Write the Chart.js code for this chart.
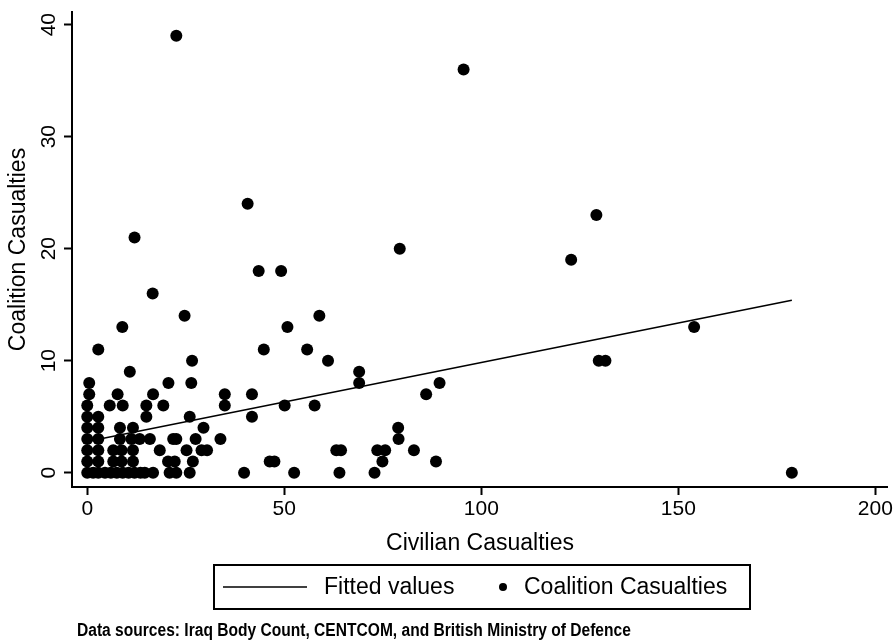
<!DOCTYPE html>
<html lang="en">
<head>
<meta charset="UTF-8">
<title>Coalition vs Civilian Casualties</title>
<script src="https://cdn.jsdelivr.net/npm/chart.js"></script>
<style>
  body { margin: 0; background: #fff; }
  #wrap { width: 895px; height: 641px; position: relative; }
</style>
</head>
<body>
<div id="wrap"><canvas id="casualtiesChart"></canvas></div>
<script>
// x = civilian casualties, y = coalition casualties (one entry per observation)
const civilian = [
  0, 1.5, 2.8, 4.5, 6, 7.5, 9, 10.5, 12, 13.5, 14.6, 16.7, 20.9, 22.6, 26, 39.8, 52.5, 64, 72.9, 178.8,
  0, 2.8, 6.6, 8.7, 11.6, 20.5, 22.2, 26.8, 46.3, 47.5, 74.9, 88.5,
  0, 2.8, 6.6, 8.7, 11.6, 18.4, 25.2, 29, 30.4, 63.2, 64.4, 73.6, 75.6, 82.9,
  0, 2.8, 8.3, 11.2, 13.3, 15.9, 21.8, 22.6, 27.5, 33.8, 79,
  0, 2.8, 8.3, 11.6, 29.5, 78.9,
  0, 2.8, 15, 26, 41.8,
  0, 5.7, 9, 15, 19.3, 34.9, 50.1, 57.7,
  0.5, 7.7, 16.7, 34.9, 41.8, 86,
  0.5, 20.6, 26.4, 69, 89.4,
  10.8, 69,
  26.6, 61.1, 129.8, 131.5,
  2.8, 44.8, 55.8,
  8.9, 50.8, 154,
  24.7, 58.9,
  16.6,
  43.5, 49.2,
  122.8, 79.3, 12, 129.2, 40.7, 95.5, 22.6
];
const coalition = [
  0, 0, 0, 0, 0, 0, 0, 0, 0, 0, 0, 0, 0, 0, 0, 0, 0, 0, 0, 0,
  1, 1, 1, 1, 1, 1, 1, 1, 1, 1, 1, 1,
  2, 2, 2, 2, 2, 2, 2, 2, 2, 2, 2, 2, 2, 2,
  3, 3, 3, 3, 3, 3, 3, 3, 3, 3, 3,
  4, 4, 4, 4, 4, 4,
  5, 5, 5, 5, 5,
  6, 6, 6, 6, 6, 6, 6, 6,
  7, 7, 7, 7, 7, 7,
  8, 8, 8, 8, 8,
  9, 9,
  10, 10, 10, 10,
  11, 11, 11,
  13, 13, 13,
  14, 14,
  16,
  18, 18,
  19, 20, 21, 23, 24, 36, 39
];
// fitted regression line
const fittedX = [0, 178.8];
const fittedY = [2.78, 15.4];

const xTicks = [0, 50, 100, 150, 200];
const yTicks = [0, 10, 20, 30, 40];
const legendLabels = ['Fitted values', 'Coalition Casualties'];
const sourceNote = 'Data sources: Iraq Body Count, CENTCOM, and British Ministry of Defence';

const FONT = '"Liberation Sans", Arial, Helvetica, sans-serif';

const scatterPoints = civilian.map((c, i) => ({ x: c, y: coalition[i] }));
const fittedPoints = fittedX.map((c, i) => ({ x: c, y: fittedY[i] }));

// y tick labels (rotated), legend box and source note
const stataExtras = {
  id: 'stataExtras',
  afterDraw(chart) {
    const ctx = chart.ctx;
    const yScale = chart.scales.y;
    ctx.save();
    ctx.fillStyle = '#000';
    ctx.strokeStyle = '#000';

    ctx.font = '21px ' + FONT;
    ctx.textAlign = 'center';
    ctx.textBaseline = 'middle';
    yTicks.forEach(v => {
      ctx.save();
      ctx.translate(48, yScale.getPixelForValue(v));
      ctx.rotate(-Math.PI / 2);
      ctx.fillText(String(v), 0, 1);
      ctx.restore();
    });

    // legend
    ctx.lineWidth = 2;
    ctx.strokeRect(214, 565, 536, 44);
    ctx.lineWidth = 1.5;
    ctx.beginPath();
    ctx.moveTo(223, 587);
    ctx.lineTo(307, 587);
    ctx.stroke();
    ctx.beginPath();
    ctx.arc(503, 587, 4, 0, Math.PI * 2);
    ctx.fill();
    ctx.font = '23px ' + FONT;
    ctx.textAlign = 'left';
    ctx.fillText(legendLabels[0], 324, 588);
    ctx.fillText(legendLabels[1], 524, 588);

    // source note
    ctx.save();
    ctx.translate(77, 631);
    ctx.scale(0.89, 1);
    ctx.font = 'bold 17.5px ' + FONT;
    ctx.fillText(sourceNote, 0, 0);
    ctx.restore();

    ctx.restore();
  }
};

new Chart(document.getElementById('casualtiesChart'), {
  type: 'scatter',
  data: {
    datasets: [
      {
        label: legendLabels[0],
        data: fittedPoints,
        showLine: true,
        borderColor: '#000',
        borderWidth: 1.6,
        pointRadius: 0,
        fill: false
      },
      {
        label: legendLabels[1],
        data: scatterPoints,
        backgroundColor: '#000',
        borderWidth: 0,
        pointRadius: 6,
        pointHoverRadius: 6
      }
    ]
  },
  options: {
    responsive: true,
    maintainAspectRatio: false,
    animation: false,
    layout: { padding: { top: 12, right: 5, bottom: 84, left: 0 } },
    plugins: {
      legend: { display: false },
      tooltip: { enabled: false }
    },
    scales: {
      x: {
        type: 'linear',
        min: -3.87,
        max: 203.2,
        afterBuildTicks: s => { s.ticks = xTicks.map(v => ({ value: v })); },
        afterFit: s => { s.height = 70; },
        border: { display: true, color: '#000', width: 2 },
        grid: { drawOnChartArea: false, drawTicks: true, tickLength: 8, tickWidth: 2, tickColor: '#000' },
        ticks: { color: '#000', padding: 2, maxRotation: 0, font: { family: FONT, size: 21 } },
        title: { display: true, text: 'Civilian Casualties', color: '#000', padding: { top: 0, bottom: 0 }, font: { family: FONT, size: 23 } }
      },
      y: {
        type: 'linear',
        min: -1.28,
        max: 41.13,
        afterBuildTicks: s => { s.ticks = yTicks.map(v => ({ value: v })); },
        afterFit: s => { s.width = 72; },
        border: { display: true, color: '#000', width: 2 },
        grid: { drawOnChartArea: false, drawTicks: true, tickLength: 8, tickWidth: 2, tickColor: '#000' },
        ticks: { display: false },
        title: { display: true, text: 'Coalition Casualties', color: '#000', padding: { top: 5, bottom: 0 }, font: { family: FONT, size: 23 } }
      }
    }
  },
  plugins: [stataExtras]
});
</script>
</body>
</html>
